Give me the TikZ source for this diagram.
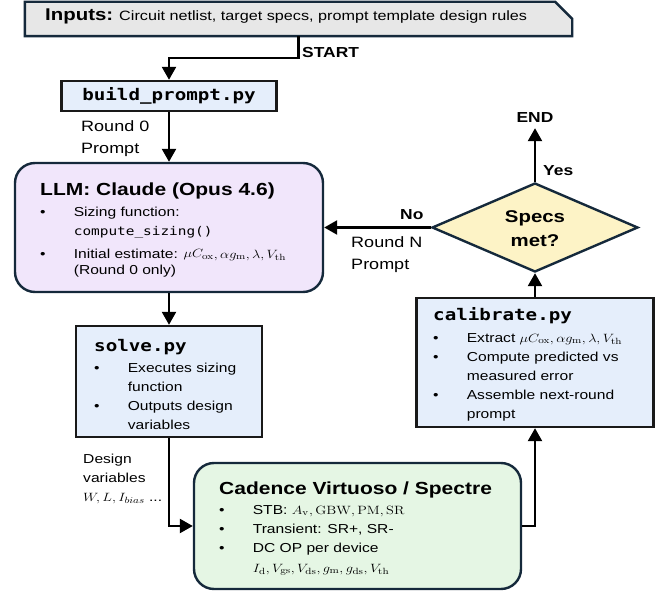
\documentclass[tikz,border=0pt]{standalone}
\usepackage[no-math]{fontspec}
\setmainfont{Liberation Sans}
\setmonofont{DejaVu Sans Mono}
\usetikzlibrary{arrows.meta,shapes.geometric}

\definecolor{edge}{HTML}{15293B}
\definecolor{inputfill}{HTML}{E7E7E7}
\definecolor{pyfill}{HTML}{E5EEFB}
\definecolor{llmfill}{HTML}{F1E6FB}
\definecolor{simfill}{HTML}{E5F6E4}
\definecolor{specfill}{HTML}{FDF3C6}

\newcommand{\titlefont}{\bfseries\fontsize{17.5}{21}\selectfont}
\newcommand{\pyfont}{\ttfamily\bfseries\fontsize{16}{19}\selectfont}
\newcommand{\codefont}{\ttfamily\fontsize{12}{19}\selectfont}
\newcommand{\bul}{\makebox[28pt][l]{\textbullet}}
\newcommand{\ind}{\hspace*{28pt}}

\begin{document}
\begin{tikzpicture}[
		x=1pt, y=-1pt,
		flow/.style={-{Triangle[length=13pt,width=14pt]}, line width=2.4pt},
		pybox/.style={draw=black!90, fill=pyfill, line width=2.4pt},
		roundbox/.style={draw=edge, line width=2.4pt, rounded corners=20pt},
		decision/.style={diamond, draw=edge, fill=specfill, line width=2.4pt, inner sep=0pt},
		txt/.style={inner sep=0pt, xscale=1.2, align=left, font=\fontsize{13}{19}\selectfont},
		lbl/.style={inner sep=0pt, xscale=1.2, font=\bfseries\fontsize{14.5}{17}\selectfont}
		]
		\useasboundingbox (0,0) rectangle (671,593);
		
		% ---------------------------------------------------------
		% Inputs banner (cut corner on the right)
		% ---------------------------------------------------------
		\node[minimum width=547pt, minimum height=34pt, inner sep=0pt] (inputs) at (298.5,19) {};
		\draw[draw=edge, fill=inputfill, line width=2.4pt]
			(inputs.south west) -- (inputs.north west) -- ([xshift=-17pt]inputs.north east)
			-- ([yshift=-17pt]inputs.north east) -- (inputs.south east) -- cycle;
		\node[txt, anchor=base west, font=\fontsize{13.5}{16}\selectfont] (inputtext) at (45,21)
			{{\bfseries\fontsize{17}{20}\selectfont Inputs:} Circuit netlist, target specs, prompt template design rules};
		
		% ---------------------------------------------------------
		% Boxes
		% ---------------------------------------------------------
		\node[pybox, minimum width=215pt, minimum height=30pt] (bp) at (169,96) {};
		\node[roundbox, fill=llmfill, minimum width=308pt, minimum height=129pt] (llm) at (169,227.5) {};
		\node[pybox, minimum width=186pt, minimum height=111pt] (solve) at (169,381.5) {};
		\node[roundbox, fill=simfill, minimum width=327pt, minimum height=126pt] (cad) at (357.5,526) {};
		\node[pybox, minimum width=237pt, minimum height=129pt] (cal) at (535,362.5) {};
		\node[decision, minimum width=206pt, minimum height=89pt] (spec) at (535,227.5) {};
		
		% box texts (placed by the baseline of their last line)
		\node[txt, font=\pyfont] (bptext) at (bp) {build\_prompt.py};
		
		\node[txt, anchor=base west] (llmtext) at (40,275) {{\titlefont LLM: Claude (Opus 4.6)}\\[2pt]
			\bul Sizing function:\\
			\ind{\codefont compute\_sizing()}\\[3pt]
			\bul Initial estimate: $\mu C_{\mathrm{ox}}, \alpha g_{\mathrm{m}}, \lambda, V_{\mathrm{th}}$\\[-2pt]
			\ind(Round 0 only)};
		
		\node[txt, anchor=base west] (solvetext) at (94,429) {{\pyfont solve.py}\\[2pt]
			\bul Executes sizing\\
			\ind function\\
			\bul Outputs design\\
			\ind variables};
		
		\node[txt, anchor=base west] (caltext) at (433,418) {{\pyfont calibrate.py}\\[3pt]
			\bul Extract $\mu C_{\mathrm{ox}}, \alpha g_{\mathrm{m}}, \lambda, V_{\mathrm{th}}$\\
			\bul Compute predicted vs\\
			\ind measured error\\
			\bul Assemble next-round\\
			\ind prompt};
		
		\node[txt, anchor=base west] (cadtext) at (219,572) {{\titlefont Cadence Virtuoso / Spectre}\\[1pt]
			\bul STB: $A_{\mathrm{v}}, \mathrm{GBW}, \mathrm{PM}, \mathrm{SR}$\\
			\bul Transient: SR+, SR-\\
			\bul DC OP per device\\[1pt]
			\ind $I_{\mathrm{d}}, V_{\mathrm{gs}}, V_{\mathrm{ds}}, g_{\mathrm{m}}, g_{\mathrm{ds}}, V_{\mathrm{th}}$};
		
		\node[lbl, align=center, font=\bfseries\fontsize{17}{24}\selectfont] (spectext) at (535,229) {Specs\\met?};
		
		% ---------------------------------------------------------
		% Connectors and their labels
		% ---------------------------------------------------------
		\draw[flow] (inputs.south) -- ++(0,22) -| (bp.north);
		\node[lbl, anchor=base west] (start) at (302,58) {START};
		
		\draw[flow] (bp.south) -- (llm.north);
		\node[txt, anchor=base west, font=\fontsize{15}{22}\selectfont] (round0) at (81,154) {Round 0\\Prompt};
		
		\draw[flow] (llm.south) -- (solve.north);
		
		\draw[flow] (solve.south) |- (cad.west);
		\node[txt, anchor=base west] (design) at (83,501) {Design\\variables\\$W, L, I_{bias}$ ...};
		
		\draw[flow] (cad.east) -| (cal.south);
		\draw[flow] (cal.north) -- (spec.south);
		
		% Yes: finished
		\node[lbl, anchor=base, inner ysep=5pt] (done) at (535,123) {END};
		\draw[flow] (spec.north) -- (done.south);
		\node[lbl, anchor=base west] (yes) at (543,176) {Yes};
		
		% No: back to the LLM
		\draw[flow] (spec.west) -- (llm.east);
		\node[lbl, anchor=base west] (no) at (400,220) {No};
		\node[txt, anchor=base west, font=\fontsize{15}{22}\selectfont] (roundn) at (351,270) {Round N\\Prompt};
		
	\end{tikzpicture}
\end{document}
